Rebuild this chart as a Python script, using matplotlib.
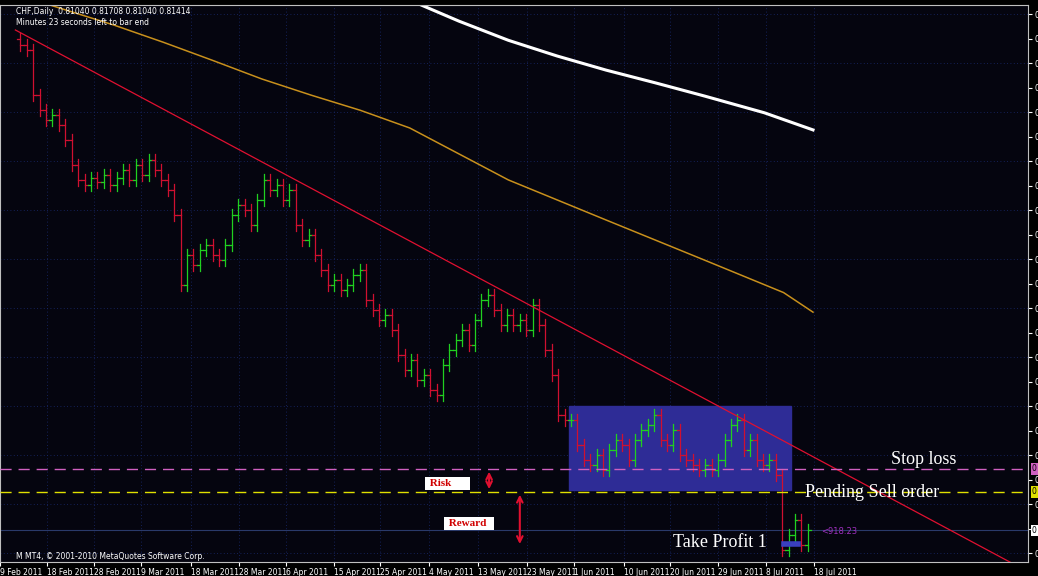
import numpy as np
import matplotlib.pyplot as plt
from matplotlib.ticker import MultipleLocator, FormatStrFormatter
from matplotlib.patches import Rectangle

# closes (USDCHF-like, Feb-Jul 2011)
closes = [0.9137, 0.9127, 0.9035, 0.9005, 0.8984, 0.8994, 0.8974, 0.8943, 0.8892, 0.8862,
          0.8852, 0.8866, 0.8858, 0.8872, 0.8852, 0.8866, 0.8882, 0.8862, 0.8892, 0.8872,
          0.8903, 0.8882, 0.8862, 0.8841, 0.8790, 0.8648, 0.8709, 0.8688, 0.8719, 0.8729,
          0.8709, 0.8699, 0.8729, 0.8790, 0.8811, 0.8801, 0.8770, 0.8821, 0.8862, 0.8841,
          0.8852, 0.8821, 0.8841, 0.8770, 0.8739, 0.8750, 0.8709, 0.8678, 0.8648, 0.8658,
          0.8637, 0.8648, 0.8668, 0.8678, 0.8617, 0.8597, 0.8576, 0.8586, 0.8556, 0.8505,
          0.8474, 0.8494, 0.8454, 0.8464, 0.8433, 0.8423, 0.8484, 0.8515, 0.8535, 0.8556,
          0.8525, 0.8576, 0.8617, 0.8627, 0.8597, 0.8566, 0.8586, 0.8566, 0.8576, 0.8556,
          0.8607, 0.8566, 0.8515, 0.8464, 0.8382, 0.8372, 0.8372, 0.8321, 0.8290, 0.8280,
          0.8300, 0.8270, 0.8311, 0.8331, 0.8321, 0.8290, 0.8331, 0.8352, 0.8362, 0.8382,
          0.8331, 0.8321, 0.8352, 0.8300, 0.8290, 0.8280, 0.8270, 0.8280, 0.8270, 0.8290,
          0.8331, 0.8362, 0.8372, 0.8311, 0.8331, 0.8290, 0.8280, 0.8290, 0.8260, 0.8107,
          0.8137, 0.8168, 0.8117, 0.8147]
first_open = 0.9150

# moving averages (sampled points, bar index / price)
ma_orange_x = [4.6, 14.6, 22.3, 30.0, 37.7, 45.4, 53.1, 60.8, 68.5, 76.2, 91.5, 106.9, 119.2, 123.8]
ma_orange_y = [0.9219, 0.9178, 0.9143, 0.9106, 0.9068, 0.9035, 0.9004, 0.8968, 0.8915, 0.8862,
               0.8780, 0.8698, 0.8632, 0.8592]
ma_white_x = [60.8, 68.5, 76.2, 83.8, 91.5, 99.2, 106.9, 116.2, 123.8]
ma_white_y = [0.9229, 0.9186, 0.9147, 0.9115, 0.9086, 0.9060, 0.9033, 0.8999, 0.8964]

trend_x = [-0.8, 155.4]
trend_y = [0.9168, 0.8076]

stop_loss = 0.8272
pending_sell = 0.8225
bid = 0.8147
take_profit = 0.8119
box_x = [85.7, 120.3]
box_y = [0.8229, 0.8401]

tick_pos = [-3.2, 4.2, 11.5, 18.9, 26.6, 34.2, 41.4, 48.9, 56.2, 63.8, 71.4,
            79.2, 86.5, 94.2, 101.5, 108.9, 116.5, 124.0]
tick_labels = ["9 Feb 2011", "18 Feb 2011", "28 Feb 2011", "9 Mar 2011", "18 Mar 2011",
               "28 Mar 2011", "6 Apr 2011", "15 Apr 2011", "25 Apr 2011", "4 May 2011",
               "13 May 2011", "23 May 2011", "1 Jun 2011", "10 Jun 2011", "20 Jun 2011",
               "29 Jun 2011", "8 Jul 2011", "18 Jul 2011"]

W, H = 1038, 576
fig = plt.figure(figsize=(W / 100, H / 100), dpi=100, facecolor="black")
ax = fig.add_axes([0, 14 / H, 1028 / W, 1 - 19 / H], facecolor="#05050f")

x0 = -0.77
x1 = x0 + 1028 / 6.5
ax.set_xlim(x0, x1)
ax.set_ylim(0.8082, 0.9219)

# grid
for p in tick_pos:
    ax.axvline(p, color="#1a2a70", lw=0.6, ls=(0, (1, 3)), zorder=0)
for p in np.arange(0.810, 0.925, 0.01):
    ax.axhline(p, color="#1a2a70", lw=0.6, ls=(0, (1, 3)), zorder=0)

ax.add_patch(Rectangle((box_x[0], box_y[0]), box_x[1] - box_x[0], box_y[1] - box_y[0],
                       color="#2e2c96", zorder=1))

opens = [first_open] + closes[:-1]
for i, (o, c) in enumerate(zip(opens, closes)):
    up = c >= o
    col = "#20d020" if up else "#d01030"
    hi = max(o, c) + 0.0012
    lo = min(o, c) - 0.0012
    ax.plot([i, i], [lo, hi], color=col, lw=0.9, zorder=3)
    ax.plot([i - 0.5, i], [o, o], color=col, lw=0.9, zorder=3)
    ax.plot([i, i + 0.5], [c, c], color=col, lw=0.9, zorder=3)

ax.plot(ma_orange_x, ma_orange_y, color="#c8901c", lw=1.1, zorder=2)
ax.plot(ma_white_x, ma_white_y, color="white", lw=2.2, zorder=2)
ax.plot(trend_x, trend_y, color="#e01030", lw=0.9, zorder=4)

ax.axhline(stop_loss, color="#d060c0", lw=1, ls=(0, (8, 5)), zorder=4)
ax.axhline(pending_sell, color="#e0e000", lw=1, ls=(0, (8, 5)), zorder=4)
ax.axhline(bid, color="#2a3a6a", lw=0.8, zorder=2)
ax.plot([119.3, 121.5], [take_profit, take_profit], color="#3a40c0", lw=4, zorder=4)

serif = "Liberation Serif"
ax.text(136, stop_loss + 0.0001, "Stop loss", color="white", fontsize=13, family=serif,
        va="bottom", zorder=5)
ax.text(122.5, pending_sell - 0.0002, "Pending Sell order", color="white", fontsize=13,
        family=serif, va="center", zorder=5)
ax.text(102, take_profit + 0.0002, "Take Profit 1", color="white", fontsize=13,
        family=serif, va="center", zorder=5)
ax.text(125, bid - 0.0002, "<918.23", color="#a030c0", fontsize=6, va="center", zorder=5)

ax.text(63.5, 0.8243, " Risk      ", color="#d00000", fontsize=8, family=serif, fontweight="bold",
        va="center", bbox=dict(facecolor="white", edgecolor="none", pad=1.5), zorder=5)
ax.text(66.5, 0.8161, " Reward  ", color="#d00000", fontsize=8, family=serif, fontweight="bold",
        va="center", bbox=dict(facecolor="white", edgecolor="none", pad=1.5), zorder=5)
ax.annotate("", xy=(73.2, pending_sell), xytext=(73.2, stop_loss),
            arrowprops=dict(arrowstyle="<->", color="#e01030", lw=1.5), zorder=5)
ax.annotate("", xy=(78, 0.8113), xytext=(78, pending_sell),
            arrowprops=dict(arrowstyle="<->", color="#e01030", lw=1.5), zorder=5)

ax.text(-0.7, 0.9205, "CHF,Daily  0.81040 0.81708 0.81040 0.81414", color="white",
        fontsize=5.5, va="center")
ax.text(-0.7, 0.9183, "Minutes 23 seconds left to bar end", color="white", fontsize=5.5,
        va="center")
ax.text(x0 + 0.1, 0.8094, "M MT4, \u00a9 2001-2010 MetaQuotes Software Corp.", color="white",
        fontsize=5.5, va="center")

ax.set_xticks(tick_pos)
ax.set_xticklabels(tick_labels, ha="left")
ax.tick_params(axis="x", colors="white", labelsize=5.5, length=3, pad=1)
ax.yaxis.tick_right()
ax.yaxis.set_major_locator(MultipleLocator(0.005))
ax.yaxis.set_major_formatter(FormatStrFormatter("%.4f"))
ax.tick_params(axis="y", colors="white", labelsize=5.5, length=3, pad=2)
for s in ax.spines.values():
    s.set_color("#c0c0c0")
    s.set_linewidth(0.8)

for p, fc in [(stop_loss, "#d060c0"), (pending_sell, "#e0e000"), (bid, "white")]:
    ax.text(x1 + 0.6, p, "0", color="black", fontsize=5.5, va="center", clip_on=False,
            bbox=dict(facecolor=fc, edgecolor="none", pad=0.8), zorder=6)

fig.savefig("out.png", dpi=100, facecolor="black")
